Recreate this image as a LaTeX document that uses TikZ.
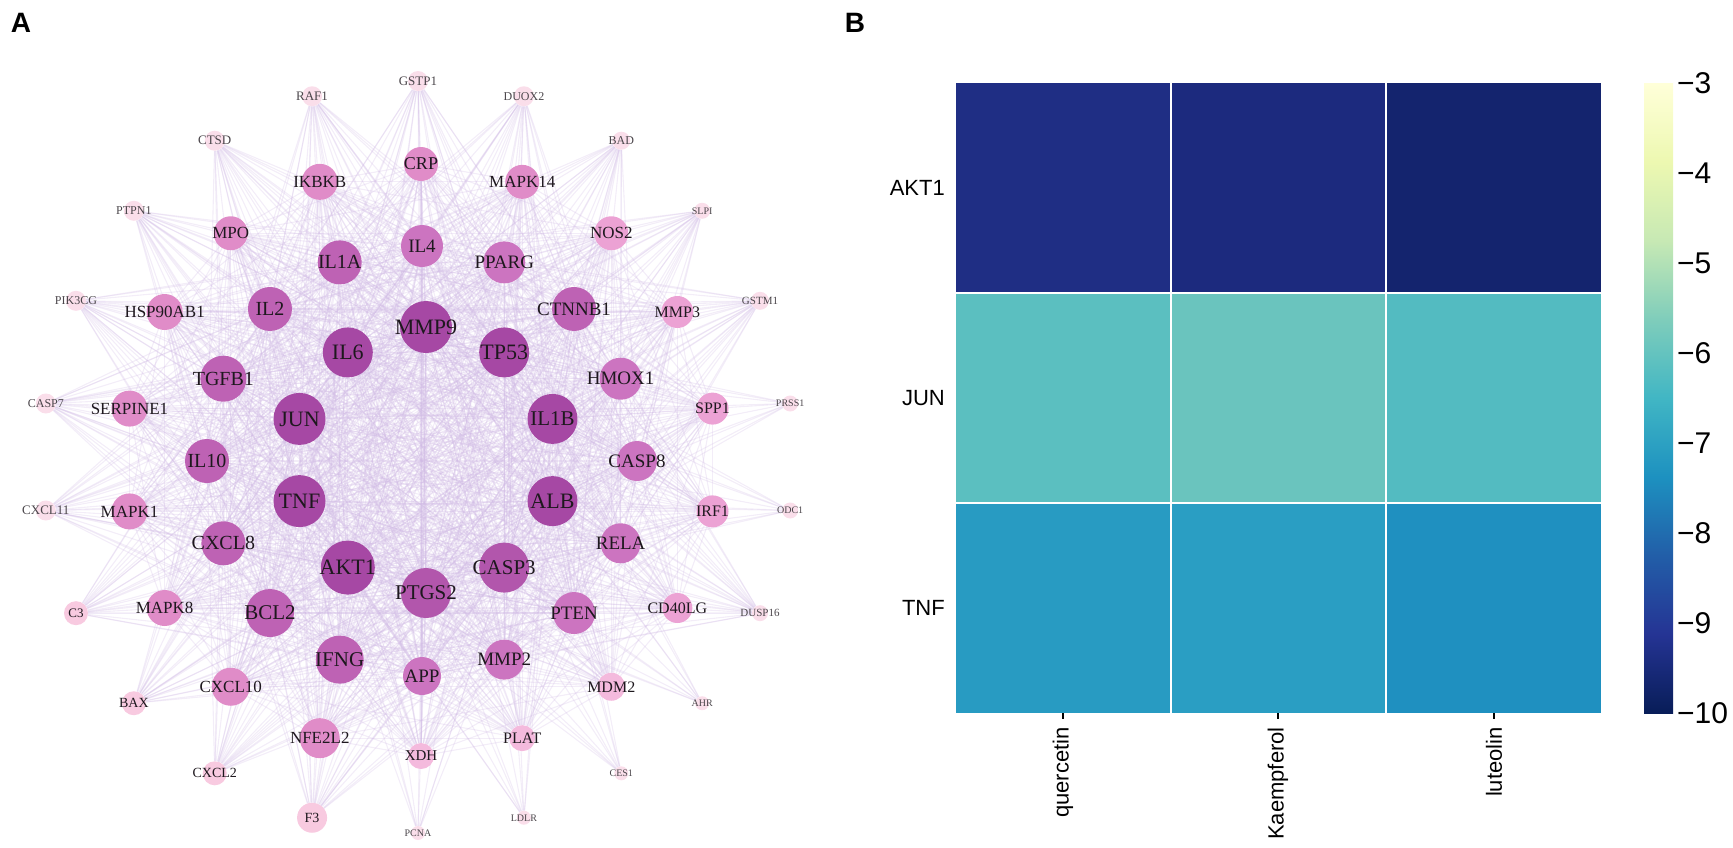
\documentclass[tikz,border=0pt]{standalone}
\usepackage{fontspec}
\setmainfont{Liberation Serif}
\newfontfamily\arialfont{Liberation Sans}
\usetikzlibrary{backgrounds}

% node fills of the network
\definecolor{hubA}{RGB}{166,72,164}
\definecolor{hubB}{RGB}{178,86,172}
\definecolor{midA}{RGB}{190,98,180}
\definecolor{midB}{RGB}{204,116,192}
\definecolor{pinkA}{RGB}{224,140,200}
\definecolor{pinkB}{RGB}{236,162,212}
\definecolor{pinkC}{RGB}{244,186,221}
\definecolor{leafA}{RGB}{250,222,234}
\definecolor{leafB}{RGB}{248,202,224}
\definecolor{edgecol}{RGB}{208,186,228}
\definecolor{darktext}{RGB}{30,24,30}
\definecolor{graytext}{RGB}{75,70,75}

% heat map cells and colour bar
\definecolor{aq}{RGB}{31,46,132}
\definecolor{ak}{RGB}{28,42,126}
\definecolor{al}{RGB}{20,36,110}
\definecolor{jq}{RGB}{91,191,192}
\definecolor{jk}{RGB}{106,196,190}
\definecolor{jl}{RGB}{83,187,193}
\definecolor{tq}{RGB}{40,155,194}
\definecolor{tk}{RGB}{42,158,195}
\definecolor{tl}{RGB}{31,144,192}
\definecolor{yg1}{RGB}{255,255,217}
\definecolor{yg2}{RGB}{237,248,177}
\definecolor{yg3}{RGB}{199,233,180}
\definecolor{yg4}{RGB}{127,205,187}
\definecolor{yg5}{RGB}{65,182,196}
\definecolor{yg6}{RGB}{29,145,192}
\definecolor{yg7}{RGB}{34,94,168}
\definecolor{yg8}{RGB}{37,52,148}
\definecolor{yg9}{RGB}{8,29,88}

\pgfdeclareverticalshading{ylgnbu}{100bp}{color(0bp)=(yg9); color(25bp)=(yg9);
  color(31.25bp)=(yg8); color(37.5bp)=(yg7); color(43.75bp)=(yg6);
  color(50bp)=(yg5); color(56.25bp)=(yg4); color(62.5bp)=(yg3);
  color(68.75bp)=(yg2); color(75bp)=(yg1); color(100bp)=(yg1)}

\tikzset{
  gene/.style={circle, inner sep=0pt, draw=none},
  edge/.style={draw=edgecol, line width=1.1pt, opacity=0.26},
  panel/.style={font=\arialfont\bfseries\fontsize{28}{28}\selectfont},
  heatlabel/.style={font=\arialfont\fontsize{22}{22}\selectfont, inner sep=0pt},
  barlabel/.style={font=\arialfont\fontsize{30}{30}\selectfont, inner sep=0pt},
  gridline/.style={white, line width=2.2pt},
  tickmark/.style={black, line width=1.4pt}
}

\begin{document}
\begin{tikzpicture}[x=1pt, y=1pt]

  \useasboundingbox (0,0) rectangle (1733,-847);

  \newcommand\HubList{MMP9,TP53,IL1B,ALB,CASP3,PTGS2,AKT1,TNF,JUN,IL6}
  \newcommand\CoreList{MMP9,TP53,IL1B,ALB,CASP3,PTGS2,AKT1,TNF,JUN,IL6,%
    IL4,PPARG,CTNNB1,HMOX1,CASP8,RELA,PTEN,MMP2,APP,IFNG,BCL2,CXCL8,IL10,TGFB1,IL2,IL1A,%
    CRP,MAPK14,NOS2,MMP3,SPP1,IRF1,CD40LG,MDM2,PLAT,XDH,NFE2L2,CXCL10,MAPK8,MAPK1,SERPINE1,HSP90AB1,MPO,IKBKB}
  \newcommand\InnerList{MMP9,TP53,IL1B,ALB,CASP3,PTGS2,AKT1,TNF,JUN,IL6,%
    IL4,PPARG,CTNNB1,HMOX1,CASP8,RELA,PTEN,MMP2,APP,IFNG,BCL2,CXCL8,IL10,TGFB1,IL2,IL1A}
  \newcommand\LeafList{GSTP1,DUOX2,BAD,SLPI,GSTM1,DUSP16,F3,CXCL2,BAX,C3,CXCL11,CASP7,PIK3CG,PTPN1,CTSD,RAF1}
  \newcommand\TinyList{PRSS1,ODC1,AHR,CES1,LDLR,PCNA}

  \node[panel] (labA) at (21,-23) {A};
  \node[panel] (labB) at (855,-23) {B};

  % ---- A: network, four rings
  \begin{scope}[shift={(426,-460)}]
    \foreach \g/\r/\c/\f [count=\k from 0] in {MMP9/26/hubA/22, TP53/25/hubA/22,
      IL1B/25/hubA/21, ALB/25/hubA/22, CASP3/25/hubB/21, PTGS2/25/hubB/21,
      AKT1/27/hubA/22, TNF/26/hubA/22, JUN/26/hubA/22, IL6/25/hubA/22}
    \node[gene, minimum size=2*\r, fill=\c,
      label={[text=darktext, font=\fontsize{\f}{\f}\selectfont]center:\g}]
      (\g) at ({90-36*\k}:133) {};
  \end{scope}

  \begin{scope}[shift={(422,-461)}]
    \foreach \g/\r/\c/\f [count=\k from 0] in {IL4/21/midB/19, PPARG/21/midB/19,
      CTNNB1/22/midA/19, HMOX1/21/midB/19, CASP8/20/midB/19, RELA/20/midB/19,
      PTEN/21/midB/19, MMP2/20/midB/19, APP/19/midB/19, IFNG/24/midA/21,
      BCL2/24/midA/21, CXCL8/22/midA/20, IL10/22/midA/20, TGFB1/23/midA/20,
      IL2/22/midA/20, IL1A/22/midA/20}
    \node[gene, minimum size=2*\r, fill=\c,
      label={[text=darktext, font=\fontsize{\f}{\f}\selectfont]center:\g}]
      (\g) at ({90-22.5*\k}:215) {};
  \end{scope}

  \begin{scope}[shift={(421,-460)}]
    \foreach \g/\r/\c/\f [count=\k from 0] in {CRP/17/pinkA/18, MAPK14/17/pinkA/17,
      NOS2/17/pinkB/17, MMP3/16/pinkB/16, SPP1/16/pinkB/16, IRF1/16/pinkB/16,
      CD40LG/15/pinkB/16, MDM2/14/pinkC/16, PLAT/13/pinkC/16, XDH/13/pinkC/15,
      NFE2L2/20/pinkA/17, CXCL10/19/pinkA/17, MAPK8/18/pinkA/17, MAPK1/18/pinkA/17,
      SERPINE1/18/pinkA/17, HSP90AB1/18/pinkA/17, MPO/17/pinkA/17, IKBKB/18/pinkA/17}
    \node[gene, minimum size=2*\r, fill=\c,
      label={[text=darktext, font=\fontsize{\f}{\f}\selectfont]center:\g}]
      (\g) at ({90-20*\k}:296) {};
  \end{scope}

  \begin{scope}[shift={(418,-457)}]
    \foreach \g/\r/\c/\f/\t [count=\k from 0] in {GSTP1/10/leafA/13/graytext,
      DUOX2/10/leafA/12/graytext, BAD/9/leafA/12/graytext, SLPI/8/leafA/10/graytext,
      GSTM1/9/leafA/11/graytext, PRSS1/8/leafA/10/graytext, ODC1/8/leafA/10/graytext,
      DUSP16/8/leafA/11/graytext, AHR/7/leafA/10/graytext, CES1/7/leafA/10/graytext,
      LDLR/7/leafA/10/graytext, PCNA/7/leafA/10/graytext, F3/15/leafB/14/darktext,
      CXCL2/12/leafB/14/darktext, BAX/12/leafB/14/darktext, C3/12/leafB/13/darktext,
      CXCL11/10/leafA/13/graytext, CASP7/10/leafA/12/graytext, PIK3CG/10/leafA/12/graytext,
      PTPN1/10/leafA/12/graytext, CTSD/10/leafA/13/graytext, RAF1/10/leafA/13/graytext}
    \node[gene, minimum size=2*\r, fill=\c,
      label={[text=\t, font=\fontsize{\f}{\f}\selectfont]center:\g}]
      (\g) at ({90-360/22*\k}:376) {};
  \end{scope}

  \begin{pgfonlayer}{background}
    \foreach \a [count=\i] in \CoreList {
      \foreach \b [count=\j] in \CoreList {
        \ifnum\j>\i \draw[edge] (\a) -- (\b); \fi
      }
    }
    \foreach \a in \LeafList {
      \foreach \b in \InnerList { \draw[edge] (\a) -- (\b); }
    }
    \foreach \a in \TinyList {
      \foreach \b in \HubList { \draw[edge] (\a) -- (\b); }
    }
  \end{pgfonlayer}

  % ---- B: heat map
  \foreach \row/\ca/\cb/\cc [count=\r from 0] in {AKT1/aq/ak/al, JUN/jq/jk/jl, TNF/tq/tk/tl} {
    \fill[\ca] (956,{-83-210*\r}) rectangle (1171,{-293-210*\r});
    \fill[\cb] (1171,{-83-210*\r}) rectangle (1386,{-293-210*\r});
    \fill[\cc] (1386,{-83-210*\r}) rectangle (1601,{-293-210*\r});
    \node[heatlabel, anchor=east] (row\row) at (945,{-188-210*\r}) {\row};
  }
  \draw[gridline] (1171,-83) -- (1171,-713);
  \draw[gridline] (1386,-83) -- (1386,-713);
  \draw[gridline] (956,-293) -- (1601,-293);
  \draw[gridline] (956,-503) -- (1601,-503);

  \foreach \drug/\xc in {quercetin/1063, Kaempferol/1278, luteolin/1494} {
    \coordinate (tick\drug) at (\xc,-713);
    \draw[tickmark] (tick\drug) -- ++(0,-6);
    \node[heatlabel, rotate=90, anchor=east] (col\drug) at (\xc,-727) {\drug};
  }

  % colour bar
  \shade[shading=ylgnbu] (1644,-83) rectangle (1673,-713);
  \foreach \v [count=\k from 0] in {3,...,10}
    \node[barlabel, anchor=west] (bar\v) at (1677,{-83-90*\k}) {−\v};

\end{tikzpicture}
\end{document}
